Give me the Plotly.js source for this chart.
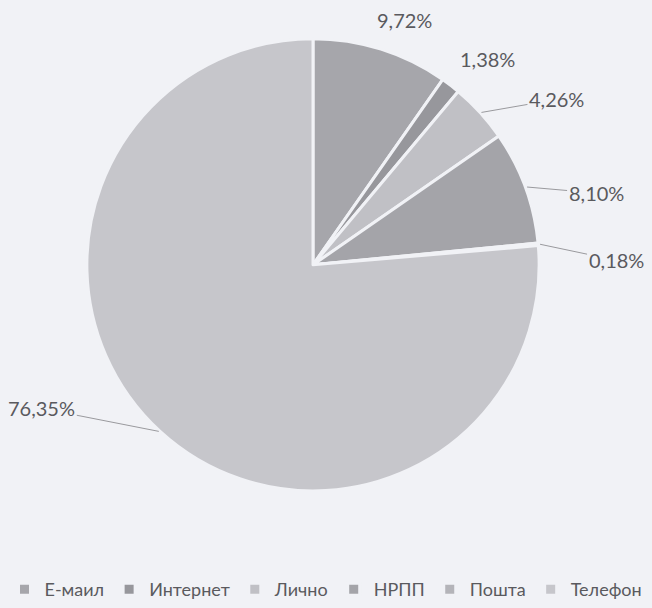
<!DOCTYPE html>
<html>
<head>
<meta charset="utf-8">
<script src="https://cdn.plot.ly/plotly-3.0.1.min.js"></script>
<style>html,body{margin:0;padding:0;background:#f1f2f6;}#chart{width:652px;height:608px;}</style>
</head>
<body>
<div id="chart"></div>
<script>
// Data
const categories = ["Е-маил", "Интернет", "Лично", "НРПП", "Пошта", "Телефон"];
const values = [9.72, 1.38, 4.26, 8.10, 0.18, 76.35];
const valueLabels = ["9,72%", "1,38%", "4,26%", "8,10%", "0,18%", "76,35%"];

// Style
const colors = ["#a6a6ab", "#97979c", "#c0c0c5", "#a4a4a9", "#b4b4b9", "#c6c6cb"];
const W = 652, H = 608;
const cx = 313, cy = 267, R = 228;
// label offsets (px) from slice edge midpoint; third item = leader line
const labelOffsets = [[23, -29, false], [36, -27, false], [75, -13, true], [69, 6, true], [76, 16, true], [-117, -23, true]];

const total = values.reduce((a, b) => a + b, 0);
let cum = 0;
const annotations = values.map((v, i) => {
  const mid = (cum + v / 2) / total * 2 * Math.PI;
  cum += v;
  const ex = cx + R * Math.sin(mid);
  const ey = cy - R * Math.cos(mid);
  const [ox, oy, line] = labelOffsets[i];
  const base = {
    xref: 'paper', yref: 'paper',
    text: valueLabels[i],
    font: {family: 'Lato, "Open Sans", sans-serif', size: 20, color: '#5a5a5e'}
  };
  if (line) {
    return Object.assign(base, {
      x: ex / W, y: 1 - ey / H,
      showarrow: true, arrowhead: 0, arrowwidth: 1, arrowcolor: '#9a9a9e',
      ax: ox, ay: oy, axref: 'pixel', ayref: 'pixel', standoff: 0
    });
  }
  return Object.assign(base, {
    x: (ex + ox) / W, y: 1 - (ey + oy) / H, xanchor: 'center', yanchor: 'middle', showarrow: false
  });
});

const trace = {
  type: 'pie',
  labels: categories,
  values: values,
  sort: false,
  direction: 'clockwise',
  rotation: 0,
  textinfo: 'none',
  hoverinfo: 'label+percent',
  marker: {colors: colors, line: {color: '#f1f2f6', width: 3}},
  domain: {x: [(cx - R) / W, (cx + R) / W], y: [1 - (cy + R) / H, 1 - (cy - R) / H]}
};

const layout = {
  width: W, height: H,
  margin: {l: 0, r: 0, t: 0, b: 0},
  paper_bgcolor: '#f1f2f6',
  plot_bgcolor: '#f1f2f6',
  showlegend: true,
  legend: {
    orientation: 'h', x: 0.5, xanchor: 'center', y: 0.022, yanchor: 'middle',
    font: {family: 'Lato, "Open Sans", sans-serif', size: 18, color: '#5a5a5e'},
    itemclick: false
  },
  annotations: annotations
};

Plotly.newPlot('chart', [trace], layout, {displayModeBar: false, staticPlot: true});
</script>
</body>
</html>
